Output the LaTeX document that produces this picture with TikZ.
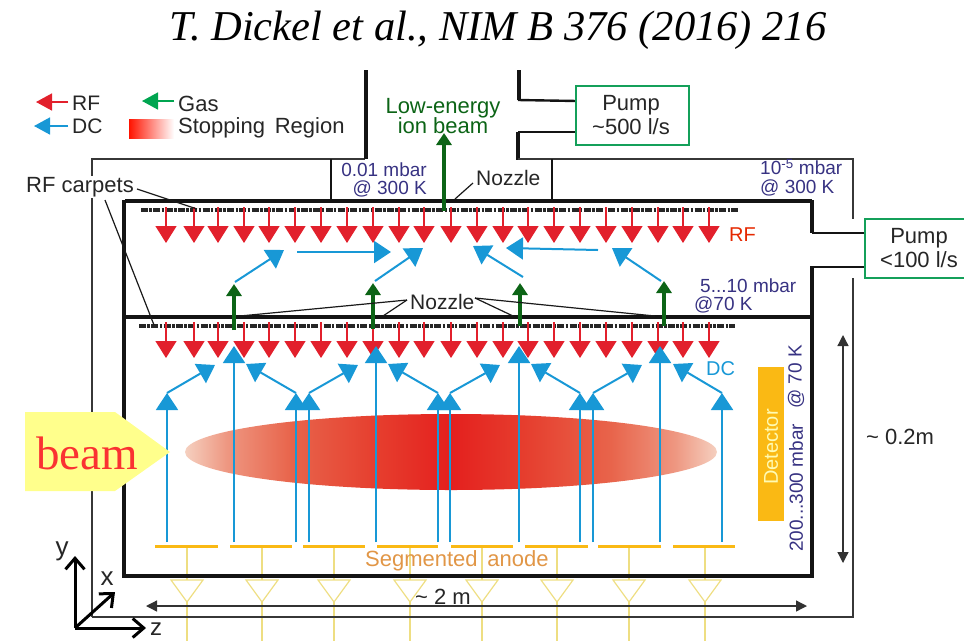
\documentclass[tikz,border=0pt]{standalone}
\usepackage{fontspec}
\setmainfont{Liberation Sans}
\newfontfamily\timesf{Liberation Serif}
\usetikzlibrary{arrows.meta}
\definecolor{rfred}{RGB}{226,32,44}
\definecolor{dcblue}{RGB}{24,152,214}
\definecolor{gasgreen}{RGB}{12,100,22}
\definecolor{leggreen}{RGB}{0,165,80}
\definecolor{boxgreen}{RGB}{20,160,90}
\definecolor{txtblue}{RGB}{55,50,130}
\definecolor{anode}{RGB}{250,185,20}
\definecolor{amp}{RGB}{238,222,130}
\definecolor{wall}{RGB}{20,20,20}
\definecolor{dimgrey}{RGB}{50,50,50}
\definecolor{segtext}{RGB}{225,150,70}
\definecolor{beamfill}{RGB}{255,255,140}
\definecolor{beamtext}{RGB}{250,50,50}
\definecolor{sra}{RGB}{245,208,192}
\definecolor{srb}{RGB}{238,150,128}
\definecolor{src}{RGB}{232,100,75}
\definecolor{srd}{RGB}{230,62,46}
\definecolor{sre}{RGB}{228,32,30}
\pgfdeclarehorizontalshading{stopregion}{100bp}{
 color(0bp)=(sra);
 color(25bp)=(sra);
 color(29bp)=(srb);
 color(35bp)=(src);
 color(43bp)=(srd);
 color(50bp)=(sre);
 color(57bp)=(srd);
 color(65bp)=(src);
 color(71bp)=(srb);
 color(75bp)=(sra);
 color(100bp)=(sra)}
\tikzset{
 lab/.style={inner sep=0pt,font=\fontsize{#1}{#1}\selectfont,text=black!85},
 lab/.default=22,
 blab/.style={inner sep=0pt,font=\fontsize{19}{20}\selectfont,text=txtblue},
 thickwall/.style={draw=wall,line width=3.2pt},
 midwall/.style={draw=wall,line width=2.4pt},
 thinwall/.style={draw=wall!85,line width=2pt},
 carpet/.style={draw=black!85,line width=3.6pt,dash pattern=on 7pt off 1.4pt on 2.5pt off 1.4pt},
 rfarrow/.style={draw=rfred,line width=1.4pt,-{Triangle[length=17pt,width=21pt,fill=rfred]}},
 dcarrow/.style={draw=dcblue,line width=2pt,-{Triangle[length=17pt,width=22pt,fill=dcblue]}},
 gasarrow/.style={draw=gasgreen,line width=4.5pt,-{Triangle[length=12pt,width=15pt,fill=gasgreen]}},
 legarrow/.style={line width=1.6pt,-{Triangle[length=16pt,width=17pt]}},
 leader/.style={draw=black!90,line width=1.2pt},
 pumpbox/.style={draw=boxgreen,line width=2.6pt,fill=white},
 dimline/.style={draw=dimgrey,line width=1.3pt,{Triangle[length=11pt,width=11pt]}-{Triangle[length=11pt,width=11pt]}},
 axisarrow/.style={draw=black,line width=3pt,-{Straight Barb[length=11pt,width=19pt,line width=3pt]}},
 ampline/.style={draw=amp,line width=1.2pt},
}
\begin{document}
\begin{tikzpicture}[x=1pt,y=-1pt]
\useasboundingbox (0,0) rectangle (964,641);
\node[inner sep=0pt,font=\timesf\itshape\fontsize{42.5}{42.5}\selectfont] (title) at (498,30) {T. Dickel et al., NIM B 376 (2016) 216};

% legend
\draw[legarrow,draw=rfred,fill=rfred] (68,102) coordinate (lrf) -- (36,102);
\draw[legarrow,draw=leggreen,fill=leggreen] (174,101) -- (142,101);
\draw[legarrow,draw=dcblue,fill=dcblue] (68,126) -- (34,126);
\node[lab=21,anchor=west] (lgrf) at (72,103) {RF};
\node[lab=22,anchor=west] (lggas) at (178,104) {Gas};
\node[lab=21,anchor=west] (lgdc) at (72,126) {DC};
\shade[left color=red!85!orange,right color=white] (129,119) rectangle (174,138);
\node[lab=22,anchor=west] (lgstop) at (178,128) {Stopping\, Region};

% amplifiers
\foreach \ax in {187,262,334,410,482,557,629,705}{
 \draw[ampline] (\ax,546) -- (\ax,580);
 \draw[ampline] (\ax-16,580) -- (\ax+16,580) -- (\ax,602) -- cycle;
 \draw[ampline] (\ax,602) -- (\ax,641);
}

% outer vessel
\draw[thinwall] (92,617) -- (92,159) -- (365,159);
\draw[thickwall] (366,159) -- (366,70);
\draw[thickwall] (519,70) -- (519,100);
\draw[midwall] (518,100) -- (577,101);
\draw[midwall] (577,132) -- (518,132);
\draw[thickwall] (518,132) -- (518,160);
\draw[thinwall] (518,159) -- (853,159) -- (853,219);
\draw[thinwall] (853,278) -- (853,617) -- (92,617);
\draw[midwall] (331,159) -- (331,201);
\draw[midwall] (552,159) -- (552,201);

% inner chamber
\draw[thickwall] (125,201) -- (812,201);
\draw[thickwall] (812,200) -- (812,233);
\draw[midwall] (812,233) -- (865,233);
\draw[midwall] (865,267) -- (812,267);
\draw[thickwall] (812,266) -- (812,576) -- (124,576) -- (124,200);
\draw[thickwall] (125,317) -- (812,317);

% pumps
\node[pumpbox,minimum width=113pt,minimum height=59pt,inner sep=0pt] (pumpa) at (632.5,115.5) {};
\node[lab=22,anchor=center] (pa1) at (631,105) {Pump};
\node[lab=22,anchor=center] (pa2) at (631,127) {\textasciitilde500 l/s};
\draw[pumpbox] (970,219) -- (865,219) -- (865,278) -- (970,278);
\node[lab=22,anchor=center] (pb1) at (919,238) {Pump};
\node[lab=22,anchor=center] (pb2) at (919,260) {<100 l/s};

% stopping region
\shade[shading=stopregion] (451,452) ellipse [x radius=266, y radius=38];

% carpets
\draw[carpet] (141,210) -- (738,210);
\draw[carpet] (139,326) -- (735,326);

% RF arrows
\foreach \rx in {166,194,218,244,269,295,321,347,373,399,424,451,477,503,528,554,580,606,632,658,683,709}{
 \draw[rfarrow] (\rx,207) -- (\rx,243);
 \draw[rfarrow] (\rx,322) -- (\rx,358);
}

% DC arrows, upper section
\draw[dcarrow] (235,282) -- (284,250);
\draw[dcarrow] (297,252) -- (391,252);
\draw[dcarrow] (375,281) -- (423,248);
\draw[dcarrow] (523,277) -- (473,246);
\draw[dcarrow] (598,250) -- (506,248);
\draw[dcarrow] (661,281) -- (612,248);

% DC arrows, lower section
\foreach \vx/\ty in {167/393,234/346,296/393,309/393,376/346,438/393,450/393,519/346,580/393,593/393,660/346,722/393}{
 \draw[dcarrow] (\vx,542) -- (\vx,\ty);
}
\foreach \ax/\bx/\cx/\cy in {167/393/215/365,296/393/246/364,309/393/358/365,438/393/388/364,450/393/500/365,580/393/531/364,593/393/642/365,722/393/673/364}{
 \draw[dcarrow] (\ax,\bx) -- (\cx,\cy);
}

% gas arrows
\draw[gasarrow] (444,211) -- (444,133);
\draw[gasarrow] (234,330) -- (234,284);
\draw[gasarrow] (373,329) -- (373,283);
\draw[gasarrow] (520,326) -- (520,283);
\draw[gasarrow] (664,326) -- (664,281);

% anode segments
\foreach \sa/\sb in {155/218,230/292,303/365,377/438,451/513,525/588,598/661,673/735}{
 \draw[draw=anode,line width=3pt] (\sa,546) -- (\sb,546);
}
\node[inner sep=0pt,font=\fontsize{22}{22}\selectfont,text=segtext,anchor=west] (seg) at (365,561) {Segmented\, anode};

% detector
\node[fill=anode,minimum width=26pt,minimum height=154pt,inner sep=0pt] (det) at (771,444) {};
\node[inner sep=0pt,rotate=90,font=\fontsize{20}{20}\selectfont,text=yellow!30!white] (dett) at (771,447) {Detector};

% labels
\node[inner sep=0pt,font=\fontsize{22}{22}\selectfont,text=gasgreen,anchor=center] (leb1) at (443,108) {Low-energy};
\node[inner sep=0pt,font=\fontsize{22}{22}\selectfont,text=gasgreen,anchor=center] (leb2) at (443,126) {ion beam};
\node[blab,anchor=east] (pa) at (427,170) {0.01 mbar};
\node[blab,anchor=east] (pb) at (427,189) {@ 300 K};
\node[blab,anchor=west] (pc) at (760,167) {10\textsuperscript{-5} mbar};
\node[blab,anchor=west] (pd) at (760,188) {@ 300 K};
\node[blab,anchor=west] (pe) at (700,286) {5...10 mbar};
\node[blab,anchor=west] (pf) at (694,305) {@70 K};
\node[inner sep=0pt,font=\fontsize{20}{20}\selectfont,text=red!65!orange!90!black,anchor=west] (rflab) at (729,235) {RF};
\node[inner sep=0pt,font=\fontsize{20}{20}\selectfont,text=dcblue,anchor=west] (dclab) at (706,369) {DC};
\node[blab,rotate=90,anchor=west] (pg) at (796,552) {200...300 mbar};
\node[blab,rotate=90,anchor=west] (ph) at (796,409) {@ 70 K};

\node[lab=21,anchor=west] (nz1) at (476,178) {Nozzle};
\coordinate (nz1a) at (473,183);
\coordinate (nz1b) at (455,199);
\draw[leader] (nz1a) -- (nz1b);

\node[lab=21,anchor=west] (nz2) at (410,302) {Nozzle};
\coordinate (nzl) at (407,300);
\coordinate (nzr) at (475,298);
\coordinate (nza) at (240,316);
\coordinate (nzb) at (383,316);
\coordinate (nzc) at (513,316);
\coordinate (nzd) at (655,316);
\draw[leader] (nzl) -- (nza);
\draw[leader] (nzl) -- (nzb);
\draw[leader] (nzr) -- (nzc);
\draw[leader] (nzr) -- (nzd);

\node[lab=22,anchor=west,fill=white,inner sep=1pt] (rfc) at (25,187) {RF carpets};
\coordinate (rfa) at (197,209);
\coordinate (rfb) at (154,325);
\draw[leader] (rfc.east) ++(2,2) -- (rfa);
\draw[leader] (105,200) -- (rfb);

% dimensions
\coordinate (dv1) at (843,335);
\coordinate (dv2) at (843,563);
\draw[dimline] (dv1) -- (dv2);
\node[lab=22,anchor=west] (dvl) at (866,437) {\textasciitilde\ 0.2m};
\coordinate (dh1) at (146,606);
\coordinate (dh2) at (807,606);
\draw[dimline] (dh1) -- (dh2);
\node[lab=22,anchor=west] (dhl) at (415,597) {\textasciitilde\ 2 m};

% beam
\draw[fill=beamfill,draw=none] (25,412) -- (115,412) -- (170,452) -- (115,491) -- (25,491) -- cycle;
\node[inner sep=0pt,text=beamtext,font=\timesf\fontsize{47}{47}\selectfont] (beamt) at (87,453) {beam};

% axes
\coordinate (org) at (75,628);
\coordinate (ay) at (75,556);
\coordinate (az) at (146,628);
\coordinate (ax) at (115,592);
\draw[axisarrow] (org) -- (ay);
\draw[axisarrow] (org) -- (az);
\draw[axisarrow] (org) -- (ax);
\node[lab=26] (ly) at (62,551) {y};
\node[lab=26] (lx) at (107,579) {x};
\node[lab=24] (lz) at (156,629) {z};
\end{tikzpicture}
\end{document}
